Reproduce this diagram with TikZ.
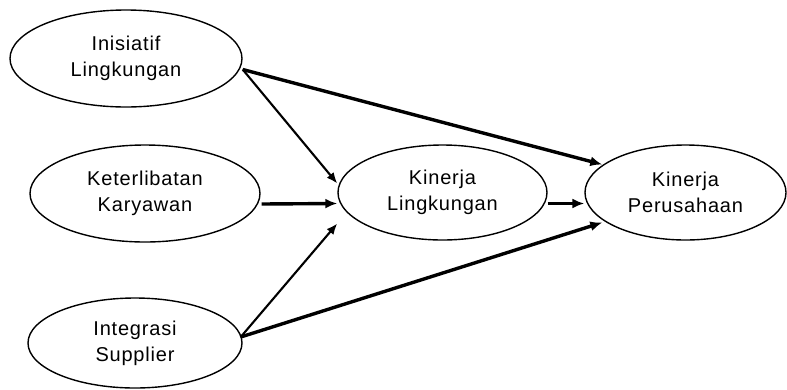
\documentclass[tikz,border=0pt]{standalone}
\usepackage{fontspec}
\setmainfont[LetterSpace=4]{Liberation Sans}
\usetikzlibrary{shapes.geometric,arrows.meta,calc}
\begin{document}
\begin{tikzpicture}[x=1pt,y=-1pt,
  var/.style={draw,ellipse,line width=1.4pt,inner sep=0pt,align=center,
    font=\fontsize{20}{26}\selectfont},
  thin/.style={line width=2.1pt,-{Latex[length=11pt,width=9pt]}},
  thick/.style={line width=3.4pt,-{Latex[length=12pt,width=10pt]}}]
\useasboundingbox (0,0) rectangle (787,389);
\node[var,minimum width=232pt,minimum height=97pt] (ini) at (126,58.5) {Inisiatif\\Lingkungan};
\node[var,minimum width=230pt,minimum height=97pt] (ket) at (145,193.5) {Keterlibatan\\Karyawan};
\node[var,minimum width=214pt,minimum height=90pt] (int) at (135,343) {Integrasi\\Supplier};
\node[var,minimum width=209pt,minimum height=95pt] (kl) at (442.5,192.5) {Kinerja\\Lingkungan};
\node[var,minimum width=201pt,minimum height=95pt] (kp) at (685.5,192.5) {Kinerja\\Perusahaan};
\draw[thin] ($(ini.east)+(0,11)$) -- ($(kl.west)+(0,-9)$);
\draw[thick] ($(ini.east)+(0,11)$) -- ($(kp.west)+(18,-28)$);
\draw[thick] ($(ket.east)+(1,10.5)$) -- ($(kl.west)+(0,11)$);
\draw[thin] ($(int.east)+(-2,-6)$) -- ($(kl.west)+(0,31)$);
\draw[thick] ($(int.east)+(-2,-6)$) -- ($(kp.west)+(18,30)$);
\draw[thick] ($(kl.east)+(0,11)$) -- ($(kp.west)+(0,11)$);
\end{tikzpicture}
\end{document}
